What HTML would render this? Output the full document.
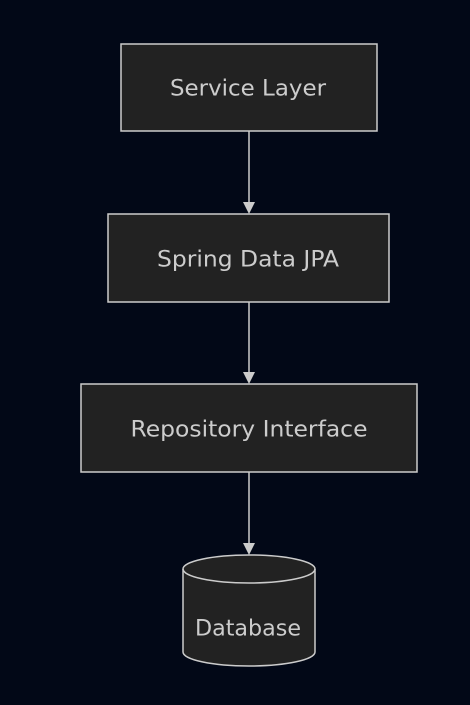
<!DOCTYPE html>
<html><head><meta charset="utf-8"><style>
html,body{margin:0;padding:0;background:#020817;}
svg{display:block}
text{font-family:"DejaVu Sans","Liberation Sans",sans-serif;font-size:22px;fill:#cccccc;text-anchor:middle;dominant-baseline:central}
</style></head><body>
<svg width="470" height="705" viewBox="0 0 470 705">
<rect width="470" height="705" fill="#020817"/>
<g stroke="#cccccc" stroke-width="1.5" fill="#222222">
<rect x="121" y="44" width="256" height="87"/>
<rect x="108" y="214" width="281" height="88"/>
<rect x="81" y="384" width="336" height="88"/>
<path d="M183,569 A66,14 0 0 1 315,569 L315,652 A66,14 0 0 1 183,652 Z"/>
<path d="M183,569 A66,14 0 0 0 315,569" fill="none"/>
</g>
<g stroke="#cccccc" stroke-width="1.5">
<line x1="249" y1="131" x2="249" y2="204"/>
<line x1="249" y1="302" x2="249" y2="374"/>
<line x1="249" y1="472" x2="249" y2="544"/>
</g>
<g fill="#cccccc">
<path d="M243,202 L255,202 L249,214 Z"/>
<path d="M243,372 L255,372 L249,384 Z"/>
<path d="M243,543 L255,543 L249,555 Z"/>
</g>
<text x="248" y="89" textLength="156" lengthAdjust="spacingAndGlyphs">Service Layer</text>
<text x="248" y="260" textLength="182" lengthAdjust="spacingAndGlyphs">Spring Data JPA</text>
<text x="249" y="430" textLength="237" lengthAdjust="spacingAndGlyphs">Repository Interface</text>
<text x="248" y="629" textLength="106" lengthAdjust="spacingAndGlyphs">Database</text>
</svg>
</body></html>
